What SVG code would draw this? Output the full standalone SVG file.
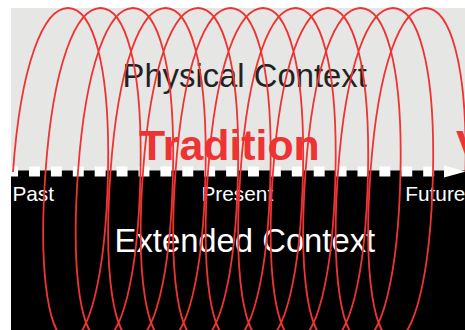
<svg xmlns="http://www.w3.org/2000/svg" width="465" height="330" viewBox="0 0 465 330">
<style>
.sans{font-family:"Liberation Sans",Arial,Helvetica,sans-serif}
.big{font-size:32.8px}
.lbl{font-size:20.8px;fill:#ffffff}
.red{font-weight:bold;font-size:42.8px;fill:#ee3333}
.coil{fill:none;stroke:#ee3333;stroke-width:1.8}
</style>
<rect width="465" height="330" fill="#ffffff"/>
<g id="physical-context">
<rect x="11" y="8" width="454" height="163" fill="#e6e6e5"/>
<text x="122.5" y="87" class="sans big" fill="#222222">Physical Context</text>
</g>
<g id="extended-context">
<rect x="11" y="170.5" width="454" height="159.5" fill="#000000"/>
<text x="114.5" y="252" class="sans big" fill="#ffffff">Extended Context</text>
</g>
<g id="timeline">
<line x1="7.1" y1="171.5" x2="445" y2="171.5" stroke="#ffffff" stroke-width="10" stroke-dasharray="10.95 10.95"/>
<polygon points="444,165.5 466,171.5 444,177.5" fill="#ffffff"/>
<text x="12.4" y="201" class="sans lbl">Past</text>
<text x="201.5" y="201" class="sans lbl">Present</text>
<text x="405.3" y="201" class="sans lbl">Future</text>
</g>
<g id="tradition">
<text x="139" y="160" class="sans red">Tradition</text>
<text x="456" y="160" class="sans red">V</text>
</g>
<g id="connectors">
<path class="coil" transform="matrix(1 0 -0.04573 1 7.866 0)" d="M13,172
c2.71,-108.2 23.05,-164 47.5,-164 c24.45,0 44.79,55.8 47.5,164 c2.71,107.5 -12.21,168 -31.25,168 c-19.04,0 -33.96,-60.5 -31.25,-168
c2.71,-108.2 23.05,-164 47.5,-164 c24.45,0 44.79,55.8 47.5,164 c2.71,107.5 -12.21,168 -31.25,168 c-19.04,0 -33.96,-60.5 -31.25,-168
c2.71,-108.2 23.05,-164 47.5,-164 c24.45,0 44.79,55.8 47.5,164 c2.71,107.5 -12.21,168 -31.25,168 c-19.04,0 -33.96,-60.5 -31.25,-168
c2.71,-108.2 23.05,-164 47.5,-164 c24.45,0 44.79,55.8 47.5,164 c2.71,107.5 -12.21,168 -31.25,168 c-19.04,0 -33.96,-60.5 -31.25,-168
c2.71,-108.2 23.05,-164 47.5,-164 c24.45,0 44.79,55.8 47.5,164 c2.71,107.5 -12.21,168 -31.25,168 c-19.04,0 -33.96,-60.5 -31.25,-168
c2.71,-108.2 23.05,-164 47.5,-164 c24.45,0 44.79,55.8 47.5,164 c2.71,107.5 -12.21,168 -31.25,168 c-19.04,0 -33.96,-60.5 -31.25,-168
c2.71,-108.2 23.05,-164 47.5,-164 c24.45,0 44.79,55.8 47.5,164 c2.71,107.5 -12.21,168 -31.25,168 c-19.04,0 -33.96,-60.5 -31.25,-168
c2.71,-108.2 23.05,-164 47.5,-164 c24.45,0 44.79,55.8 47.5,164 c2.71,107.5 -12.21,168 -31.25,168 c-19.04,0 -33.96,-60.5 -31.25,-168
c2.71,-108.2 23.05,-164 47.5,-164 c24.45,0 44.79,55.8 47.5,164 c2.71,107.5 -12.21,168 -31.25,168 c-19.04,0 -33.96,-60.5 -31.25,-168
c2.71,-108.2 23.05,-164 47.5,-164 c24.45,0 44.79,55.8 47.5,164 c2.71,107.5 -12.21,168 -31.25,168 c-19.04,0 -33.96,-60.5 -31.25,-168
c2.71,-108.2 23.05,-164 47.5,-164 c24.45,0 44.79,55.8 47.5,164 c2.71,107.5 -12.21,168 -31.25,168 c-19.04,0 -33.96,-60.5 -31.25,-168
c2.71,-108.2 23.05,-164 47.5,-164 c24.45,0 44.79,55.8 47.5,164"/>
</g>
</svg>
